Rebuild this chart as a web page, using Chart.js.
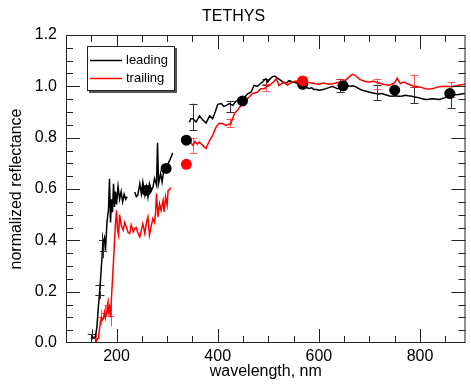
<!DOCTYPE html>
<html><head><meta charset="utf-8">
<script src="https://cdn.jsdelivr.net/npm/chart.js@4/dist/chart.umd.min.js"></script>
<style>html,body{margin:0;padding:0;background:#fff}#wrap{width:471px;height:389px}</style>
</head><body><div id="wrap"><canvas id="c" width="471" height="389"></canvas></div>
<script>
// ---------- data ----------
const chartTitle = 'TETHYS';
const xTitle = 'wavelength, nm';
const yTitle = 'normalized reflectance';
const seriesNames = ['leading', 'trailing'];
const xTickValues = [200, 400, 600, 800];
const yTickValues = [0, 0.2, 0.4, 0.6, 0.8, 1.0, 1.2];
const xMinorStep = 50;
const yMinorStep = 0.05;

const leadWl = [150,154,158,161,164,167,170,173,176,178,181,184,186,188,190,192,194,196,198,200,203,206,209,212,215,218,221,232,236,239,242,246,249,252,256,259,262,265,269,272,275,279,281,283,287,290,294,298,302,305,308,311,326,
344,347,351,357,364,370,377,384,390,395,400,407,412,417,423,430,435,440,445,450,455,460,466,472,478,485,490,495,499,504,508,513,518,524,530,535,541,547,553,561,567,573,580,586,590,596,601,608,614,620,627,632,637,643,650,657,663,668,673,680,686,692,699,705,712,718,725,730,735,740,745,751,758,765,771,777,784,790,797,804,811,817,824,830,837,843,850,856,863,869,876,882,889];
const leadVal = [0.030,0.020,0.025,0.060,0.140,0.210,0.300,0.390,0.410,0.360,0.470,0.520,0.640,0.470,0.560,0.510,0.620,0.530,0.590,0.540,0.610,0.560,0.590,0.550,0.580,0.560,0.570,null,0.588,0.570,0.576,0.621,0.582,0.627,0.576,0.608,0.569,0.621,0.595,0.608,0.641,0.615,0.780,0.621,0.660,0.627,0.680,0.672,0.699,0.712,0.725,0.740,null,
0.860,0.874,0.874,0.861,0.885,0.870,0.857,0.885,0.874,0.900,0.930,0.933,0.922,0.926,0.933,0.926,0.940,0.946,0.952,0.955,0.962,0.972,0.978,1.004,1.000,1.011,1.020,1.030,1.017,1.030,1.037,1.040,1.032,1.024,1.015,1.011,1.022,1.018,1.015,1.010,1.004,0.998,0.992,0.994,0.988,0.988,0.985,0.988,0.991,0.995,1.000,0.995,0.991,0.995,1.000,1.002,1.000,1.002,0.998,0.990,0.985,0.982,0.978,0.975,0.972,0.970,0.972,0.968,0.965,0.962,0.961,0.963,0.961,0.962,0.965,0.963,0.961,0.958,0.956,0.952,0.949,0.950,0.952,0.951,0.949,0.952,0.956,0.960,0.965,0.967,0.968,0.970,0.972];

const trailWl = [158,161,164,166,168,170,172,174,176,178,180,182,184,186,188,190,192,194,196,198,200,202,204,206,209,213,216,220,223,226,229,233,236,239,242,246,249,252,256,259,262,265,269,272,275,277,279,282,285,288,292,294,297,300,302,305,307,325,
344,347,351,355,360,364,370,377,384,390,397,402,410,416,422,426,433,439,444,449,454,459,464,469,474,479,485,492,497,502,506,510,516,521,526,531,538,543,548,553,558,565,572,580,587,594,600,605,610,615,620,627,634,640,645,650,655,660,666,672,679,684,689,694,699,704,709,714,719,724,728,733,738,743,748,752,755,758,761,765,768,773,778,783,788,793,797,804,811,817,824,830,837,843,850,856,863,869,876,882,889];
const trailVal = [0.000,0.010,0.020,0.050,0.080,0.100,0.090,0.095,0.120,0.100,0.110,0.150,0.120,0.140,0.100,0.180,0.250,0.320,0.400,0.470,0.517,0.440,0.420,0.500,0.460,0.440,0.470,0.447,0.430,0.427,0.460,0.433,0.446,0.450,0.430,0.413,0.440,0.465,0.426,0.470,0.491,0.420,0.460,0.485,0.470,0.504,0.582,0.491,0.543,0.517,0.556,0.511,0.569,0.537,0.595,0.598,0.606,null,
0.797,0.780,0.770,0.785,0.775,0.783,0.770,0.758,0.790,0.809,0.842,0.855,0.855,0.848,0.852,0.855,0.894,0.907,0.920,0.933,0.944,0.952,0.962,0.972,0.975,0.978,0.991,0.991,0.998,1.004,1.010,1.017,1.030,1.004,1.010,1.017,1.004,1.012,1.017,1.020,1.021,1.020,1.018,1.015,1.013,1.010,1.008,1.011,1.013,1.010,1.008,1.010,1.013,1.017,1.015,1.017,1.028,1.037,1.047,1.043,1.030,1.024,1.021,1.018,1.017,1.019,1.020,1.016,1.013,1.010,1.008,1.006,1.004,1.007,1.011,1.020,1.032,1.020,1.011,1.015,1.017,1.012,1.008,1.004,1.000,0.999,0.998,0.995,0.991,0.990,0.991,0.994,0.998,0.999,1.000,0.999,0.998,1.001,1.004,1.006,1.008];

const leadDotWl  = [259, 298, 338, 449, 568, 648, 750, 859];
const leadDotVal = [0.595, 0.680, 0.790, 0.943, 1.008, 1.002, 0.985, 0.972];
const trailDotWl  = [338, 568];
const trailDotVal = [0.696, 1.021];

const leadErrWl = [351, 425, 495, 641, 715, 789, 861];
const leadErrLo = [0.829, 0.900, 1.004, 0.978, 0.946, 0.935, 0.916];
const leadErrHi = [0.933, 0.943, 1.030, 1.030, 1.004, 0.998, 0.978];
const trailErrWl = [351, 425, 495, 568, 641, 715, 789, 861];
const trailErrLo = [0.740, 0.842, 0.982, 1.017, 1.004, 0.991, 0.998, 0.959];
const trailErrHi = [0.800, 0.874, 1.011, 1.037, 1.030, 1.028, 1.046, 1.017];

// UV points with error bars in both directions
const leadCrossWl  = [151, 157, 167, 167, 172, 174];
const leadCrossVal = [0.034, 0.018, 0.186, 0.225, 0.400, 0.360];
const leadCrossXErr = [8, 8, 9, 9, 7, 7];
const leadCrossYErr = [0.02, 0.02, 0.015, 0.015, 0.03, 0.03];
const trailCrossWl  = [160, 170, 177, 183, 189];
const trailCrossVal = [0.018, 0.100, 0.115, 0.147, 0.104];
const trailCrossXErr = [7, 7, 7, 7, 7];
const trailCrossYErr = [0.02, 0.03, 0.03, 0.03, 0.04];

// ---------- helpers ----------
const pts = (xs, ys) => xs.map((x, i) => ({x: x, y: ys[i]}));
const BLACK = '#000000', RED = '#ff0000';
const FONT = '"Liberation Sans", Arial, Helvetica, sans-serif';
Chart.defaults.font.family = FONT;
Chart.defaults.font.size = 16;
Chart.defaults.color = '#000';

const errorBars = {
  id: 'errorBars',
  beforeDatasetsDraw(chart) {
    const {ctx, scales: {x, y}} = chart;
    const cap = 4;
    const drawSet = (wl, lo, hi, color) => {
      ctx.strokeStyle = color; ctx.lineWidth = 1; ctx.beginPath();
      wl.forEach((w, i) => {
        const px = Math.round(x.getPixelForValue(w)) + 0.5;
        const p1 = y.getPixelForValue(lo[i]), p2 = y.getPixelForValue(hi[i]);
        ctx.moveTo(px, p1); ctx.lineTo(px, p2);
        ctx.moveTo(px - cap, Math.round(p1) + 0.5); ctx.lineTo(px + cap, Math.round(p1) + 0.5);
        ctx.moveTo(px - cap, Math.round(p2) + 0.5); ctx.lineTo(px + cap, Math.round(p2) + 0.5);
      });
      ctx.stroke();
    };
    const drawCross = (wl, v, xe, ye, color) => {
      ctx.strokeStyle = color; ctx.lineWidth = 1; ctx.beginPath();
      wl.forEach((w, i) => {
        const px = x.getPixelForValue(w), py = Math.round(y.getPixelForValue(v[i])) + 0.5;
        ctx.moveTo(x.getPixelForValue(w - xe[i]), py); ctx.lineTo(x.getPixelForValue(w + xe[i]), py);
        ctx.moveTo(Math.round(px) + 0.5, y.getPixelForValue(v[i] - ye[i]));
        ctx.lineTo(Math.round(px) + 0.5, y.getPixelForValue(v[i] + ye[i]));
      });
      ctx.stroke();
    };
    ctx.save();
    const a = chart.chartArea;
    ctx.beginPath(); ctx.rect(a.left, a.top, a.right - a.left, a.bottom - a.top); ctx.clip();
    drawSet(leadErrWl, leadErrLo, leadErrHi, '#333333');
    drawSet(trailErrWl, trailErrLo, trailErrHi, 'rgba(255,40,40,0.75)');
    drawCross(leadCrossWl, leadCrossVal, leadCrossXErr, leadCrossYErr, '#333333');
    drawCross(trailCrossWl, trailCrossVal, trailCrossXErr, trailCrossYErr, 'rgba(255,40,40,0.8)');
    ctx.restore();
  }
};

const frameTicks = {
  id: 'frameTicks',
  afterDraw(chart) {
    const {ctx, chartArea: a, scales: {x, y}} = chart;
    ctx.save();
    ctx.strokeStyle = '#222'; ctx.lineWidth = 1;
    ctx.strokeRect(a.left + 0.5, a.top + 0.5, a.right - a.left - 1, a.bottom - a.top - 1);
    ctx.beginPath();
    const nx = Math.round((x.max - x.min) / xMinorStep);
    for (let i = 0; i <= nx + 1; i++) {
      const v = Math.ceil(x.min / xMinorStep) * xMinorStep + i * xMinorStep;
      if (v >= x.max) break;
      const px = Math.round(x.getPixelForValue(v)) + 0.5;
      const len = xTickValues.includes(v) ? 14 : 7;
      ctx.moveTo(px, a.bottom); ctx.lineTo(px, a.bottom - len);
      ctx.moveTo(px, a.top); ctx.lineTo(px, a.top + len);
    }
    const ny = Math.round((y.max - y.min) / yMinorStep);
    for (let i = 1; i < ny; i++) {
      const v = y.min + i * yMinorStep;
      const py = Math.round(y.getPixelForValue(v)) + 0.5;
      const len = (i % 4 === 0) ? 14 : 7;
      ctx.moveTo(a.left, py); ctx.lineTo(a.left + len, py);
      ctx.moveTo(a.right, py); ctx.lineTo(a.right - len, py);
    }
    ctx.stroke();
    ctx.restore();
  }
};

const boxLegend = {
  id: 'boxLegend',
  afterDraw(chart) {
    const {ctx, chartArea: a} = chart;
    const bx = a.left + 21, by = a.top + 11, bw = 88, bh = 45;
    ctx.save();
    ctx.fillStyle = '#555';
    ctx.fillRect(bx + 2, by + 2, bw, bh);
    ctx.fillStyle = '#fff';
    ctx.fillRect(bx, by, bw, bh);
    ctx.strokeStyle = '#222'; ctx.lineWidth = 1;
    ctx.strokeRect(bx + 0.5, by + 0.5, bw - 1, bh - 1);
    const items = [chart.data.datasets[0], chart.data.datasets[1]];
    items.forEach((ds, i) => {
      const ly = by + 13.5 + i * 18.5;
      ctx.strokeStyle = ds.borderColor; ctx.lineWidth = 1.5;
      ctx.beginPath(); ctx.moveTo(bx + 3, Math.round(ly) + 0.5); ctx.lineTo(bx + 35, Math.round(ly) + 0.5); ctx.stroke();
      ctx.fillStyle = '#000';
      ctx.font = '13px ' + FONT;
      ctx.textBaseline = 'middle'; ctx.textAlign = 'left';
      ctx.fillText(ds.label, bx + 39, ly + 0.5);
    });
    ctx.restore();
  }
};

new Chart(document.getElementById('c'), {
  type: 'line',
  data: {
    datasets: [
      {label: seriesNames[0], data: pts(leadWl, leadVal), borderColor: BLACK, backgroundColor: BLACK,
       borderWidth: 1.5, pointRadius: 0, tension: 0, spanGaps: false, order: 3},
      {label: seriesNames[1], data: pts(trailWl, trailVal), borderColor: RED, backgroundColor: RED,
       borderWidth: 1.5, pointRadius: 0, tension: 0, spanGaps: false, order: 2},
      {label: seriesNames[0] + ' points', data: pts(leadDotWl, leadDotVal), showLine: false,
       pointRadius: 5.5, pointBackgroundColor: BLACK, pointBorderColor: BLACK, pointBorderWidth: 0, order: 1},
      {label: seriesNames[1] + ' points', data: pts(trailDotWl, trailDotVal), showLine: false,
       pointRadius: 5.5, pointBackgroundColor: RED, pointBorderColor: RED, pointBorderWidth: 0, order: 0}
    ]
  },
  options: {
    responsive: false, animation: false, devicePixelRatio: 1,
    layout: {padding: {left: 0, right: 4, top: 0, bottom: 0}},
    plugins: {
      legend: {display: false},
      tooltip: {enabled: false},
      title: {display: true, text: chartTitle, color: '#000', font: {size: 16, weight: 'normal'},
              padding: {top: 7, bottom: 8.8}}
    },
    scales: {
      x: {
        type: 'linear', min: 100, max: 890,
        afterBuildTicks: s => { s.ticks = xTickValues.map(v => ({value: v})); },
        afterFit: s => { s.height = 46; },
        grid: {display: false, drawTicks: false},
        border: {display: false},
        ticks: {padding: 4, color: '#000', maxRotation: 0, autoSkip: false, font: {size: 16}},
        title: {display: true, text: xTitle, color: '#000', font: {size: 16}, padding: {top: 0, bottom: 8}}
      },
      y: {
        type: 'linear', min: 0, max: 1.2,
        afterBuildTicks: s => { s.ticks = yTickValues.map(v => ({value: v})); },
        afterFit: s => { s.width = 66; },
        grid: {display: false, drawTicks: false},
        border: {display: false},
        ticks: {padding: 9, color: '#000', autoSkip: false, font: {size: 16}, callback: v => Number(v).toFixed(1)},
        title: {display: true, text: yTitle, color: '#000', font: {size: 16}, padding: {top: 7, bottom: 0}}
      }
    }
  },
  plugins: [errorBars, frameTicks, boxLegend]
});
</script>
</body></html>
